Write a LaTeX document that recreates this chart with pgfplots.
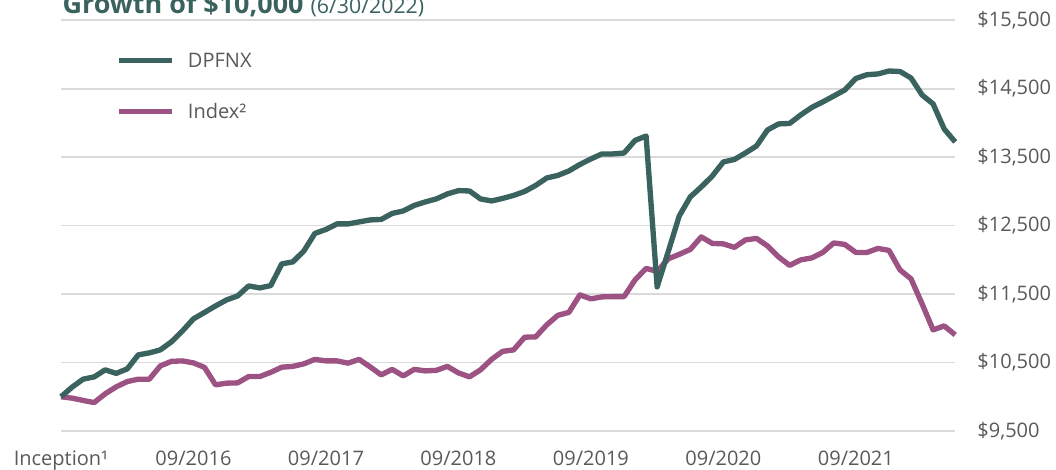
\documentclass[border=0pt]{standalone}
\usepackage{fontspec}
\setmainfont{Open Sans}
\usepackage{pgfplots}
\usepackage{pgfplotstable}
\pgfplotsset{compat=1.18}
\definecolor{tealc}{HTML}{3A625F}
\definecolor{plum}{HTML}{9C5383}
\definecolor{txt}{HTML}{595959}
\definecolor{gridc}{HTML}{DADADA}

\pgfplotstableread{
m dpfnx index
0 10000 10000
1 10140 9980
2 10257 9947
3 10290 9915
4 10393 10043
5 10342 10145
6 10407 10222
7 10612 10257
8 10641 10257
9 10685 10451
10 10802 10517
11 10962 10524
12 11138 10495
13 11232 10429
14 11327 10174
15 11415 10199
16 11473 10203
17 11619 10295
18 11590 10295
19 11624 10357
20 11941 10432
21 11970 10444
22 12130 10481
23 12386 10546
24 12444 10524
25 12525 10524
26 12525 10491
27 12554 10546
28 12583 10437
29 12590 10320
30 12678 10400
31 12714 10305
32 12795 10400
33 12846 10378
34 12890 10386
35 12963 10444
36 13011 10349
37 13006 10291
38 12890 10393
39 12860 10546
40 12897 10663
41 12941 10685
42 12999 10870
43 13087 10875
44 13196 11050
45 13233 11189
46 13298 11232
47 13393 11488
48 13474 11430
49 13547 11459
50 13547 11463
51 13560 11463
52 13744 11707
53 13809 11875
54 11605 11831
55 12116 12014
56 12640 12080
57 12919 12152
58 13065 12335
59 13225 12240
60 13430 12233
61 13466 12182
62 13561 12291
63 13663 12313
64 13897 12203
65 13985 12043
66 13992 11919
67 14116 11999
68 14225 12028
69 14306 12108
70 14393 12247
71 14481 12225
72 14649 12108
73 14704 12108
74 14715 12167
75 14758 12138
76 14751 11853
77 14656 11722
78 14408 11357
79 14277 10977
80 13912 11035
81 13722 10904
}\growth

\begin{document}
\begin{tikzpicture}
\begin{axis}[
  at={(0,0)}, anchor=south west,
  scale only axis, width=670.65pt, height=308.1pt,
  xmin=0, xmax=81, ymin=9500, ymax=15500,
  clip=false,
  scaled y ticks=false,
  axis line style={draw=none},
  major tick length=0pt,
  tick style={draw=none},
  ytick={9500,10500,11500,12500,13500,14500,15500},
  yticklabels={{\$9,500},{\$10,500},{\$11,500},{\$12,500},{\$13,500},{\$14,500},{\$15,500}},
  yticklabel pos=right,
  ymajorgrids,
  grid style={draw=gridc, line width=1.3pt},
  xtick={0,12,24,36,48,60,72},
  xticklabels={Inception¹,09/2016,09/2017,09/2018,09/2019,09/2020,09/2021},
  ticklabel style={font=\fontsize{15}{18}\selectfont, text=txt, inner sep=0pt},
  yticklabel style={anchor=west, xshift=16.5pt},
  xticklabel style={anchor=north, yshift=-15pt},
  legend style={at={(0.0615,0.920)}, anchor=north west, draw=none, fill=none,
    inner sep=0pt, outer sep=0pt, row sep=27.55pt,
    font=\fontsize{15}{18}\selectfont,
    nodes={inner sep=0pt, text height=10.7pt, text depth=0pt, text=txt}},
  legend cell align=left,
  legend image code/.code={\draw[#1] (0pt,0pt) -- (39.75pt,0pt); \path (50pt,0pt);},
  reverse legend,
]
\addplot[plum, line width=4pt, line join=round] table[x=m, y=index] {\growth};
\addlegendentry{Index²}
\addplot[tealc, line width=4pt, line join=round] table[x=m, y=dpfnx] {\growth};
\addlegendentry{DPFNX}
\node[anchor=base west, text=tealc, inner sep=0pt] at (rel axis cs:0,1) [yshift=5.4pt, xshift=1pt]
  {\fontsize{20.2}{23}\selectfont\bfseries Growth of \$10,000 \fontsize{16}{19}\selectfont\mdseries(6/30/2022)};
\end{axis}
\pgfresetboundingbox
\path[use as bounding box] (-45.75pt,-28.5pt) rectangle (746.25pt,323.25pt);
\end{tikzpicture}
\end{document}
